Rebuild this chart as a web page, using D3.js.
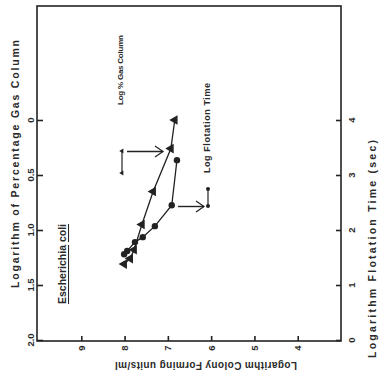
<!DOCTYPE html>
<html><head><meta charset="utf-8">
<script src="https://cdn.jsdelivr.net/npm/d3@7"></script>
<style>
body{margin:0;background:#fff;}
svg text{font-family:"Liberation Sans",Arial,sans-serif;font-weight:bold;fill:#2a2a2a;}
</style></head>
<body><svg id="c" width="379" height="380"></svg>
<script>
// Data
const gasCFU = [6.84, 6.93, 7.34, 7.60, 7.78, 7.87, 8.01];
const gasLog = [0.00, 0.26, 0.65, 0.95, 1.18, 1.26, 1.31];
const timeCFU = [6.79, 6.91, 7.30, 7.58, 7.76, 7.94, 8.01];
const timeLog = [3.27, 2.45, 2.07, 1.87, 1.78, 1.62, 1.56];
const cfuTicks = [9, 8, 7, 6, 5, 4];
const gasTicks = [0, 0.5, 1.0, 1.5, 2.0];
const gasTickLabels = ["0", "0.5", "1.0", "1.5", "2.0"];
const timeTicks = [0, 1, 2, 3, 4];

const svg = d3.select("#c");
const L = 37, R = 341, T = 6, B = 341;
const x = d3.scaleLinear().domain([10, 3]).range([38, 341]);
const yG = d3.scaleLinear().domain([0, 2]).range([120, 340]);
const yT = d3.scaleLinear().domain([0, 4]).range([340, 120]);

const ink = "#222";
// frame
svg.append("rect").attr("x", L).attr("y", T).attr("width", R - L).attr("height", B - T)
  .attr("fill", "none").attr("stroke", ink).attr("stroke-width", 1.6);

// axes (tick marks only)
const gL = svg.append("g").attr("transform", `translate(${L},0)`)
  .call(d3.axisLeft(yG).tickValues(gasTicks).tickSize(-6).tickFormat(""));
const gR = svg.append("g").attr("transform", `translate(${R},0)`)
  .call(d3.axisRight(yT).tickValues(timeTicks).tickSize(-5).tickFormat(""));
const gB = svg.append("g").attr("transform", `translate(0,${B})`)
  .call(d3.axisBottom(x).tickValues(cfuTicks).tickSize(-5).tickFormat(""));
[gL, gR, gB].forEach(g => {
  g.select(".domain").remove();
  g.selectAll(".tick line").attr("stroke", ink).attr("stroke-width", 1.6);
});

function rtext(cx, cy, str, size, rot, len) {
  const t = svg.append("text").attr("transform", `translate(${cx},${cy}) rotate(${rot})`)
    .attr("text-anchor", "middle").attr("dominant-baseline", "central")
    .style("font-size", size + "px").text(str);
  if (len) t.attr("textLength", len).attr("lengthAdjust", "spacing");
  return t;
}

// tick labels
gasTicks.forEach((v, i) => rtext(30, yG(v), gasTickLabels[i], 9.5, -90));
timeTicks.forEach(v => rtext(351, yT(v), String(v), 9.5, -90));
cfuTicks.forEach(v => rtext(x(v), 348, String(v), 9.5, -90));

// axis titles
rtext(15, 164, "Logarithm of Percentage Gas Column", 10.5, -90, 248);
rtext(372, 249, "Logarithm Flotation Time (sec)", 10.5, -90, 218);
rtext(206, 365, "Logarithm Colony Forming units/ml", 10, 180, 182);

// Series lines
const lineG = d3.line().x(d => x(d[0])).y(d => yG(d[1]));
const lineT = d3.line().x(d => x(d[0])).y(d => yT(d[1]));
const gasPts = gasCFU.map((c, i) => [c, gasLog[i]]);
const timePts = timeCFU.map((c, i) => [c, timeLog[i]]);
svg.append("path").attr("d", lineG(gasPts)).attr("fill", "none").attr("stroke", ink).attr("stroke-width", 1.3);
svg.append("path").attr("d", lineT(timePts)).attr("fill", "none").attr("stroke", ink).attr("stroke-width", 1.3);

const tri = d3.symbol().type(d3.symbolTriangle).size(40);
svg.selectAll(".tri").data(gasPts).join("path")
  .attr("d", tri)
  .attr("transform", d => `translate(${x(d[0])},${yG(d[1])}) rotate(-90)`)
  .attr("fill", ink);
svg.selectAll(".circ").data(timePts).join("circle")
  .attr("cx", d => x(d[0])).attr("cy", d => yT(d[1])).attr("r", 3.2).attr("fill", ink);

// legend: gas column
rtext(120, 70, "Log % Gas Column", 8, -90, 70);
svg.append("line").attr("x1", 122).attr("x2", 122).attr("y1", 151).attr("y2", 173)
  .attr("stroke", ink).attr("stroke-width", 1.2);
const triS = d3.symbol().type(d3.symbolTriangle).size(10);
[151, 173].forEach(yy => svg.append("path").attr("d", triS)
  .attr("transform", `translate(122,${yy}) rotate(-90)`).attr("fill", ink));
svg.append("line").attr("x1", 127).attr("x2", 163).attr("y1", 151.5).attr("y2", 151.5)
  .attr("stroke", ink).attr("stroke-width", 1.4);
svg.append("path").attr("d", "M155,146 L163,151.5 L155,157").attr("fill", "none")
  .attr("stroke", ink).attr("stroke-width", 1.2);

// legend: flotation time
rtext(207, 128, "Log Flotation Time", 9, -90, 90);
svg.append("line").attr("x1", 208).attr("x2", 208).attr("y1", 189).attr("y2", 206)
  .attr("stroke", ink).attr("stroke-width", 1.2);
[189, 206].forEach(yy => svg.append("circle").attr("cx", 208).attr("cy", yy).attr("r", 2).attr("fill", ink));
svg.append("line").attr("x1", 178).attr("x2", 204).attr("y1", 206.5).attr("y2", 206.5)
  .attr("stroke", ink).attr("stroke-width", 1.4);
svg.append("path").attr("d", "M196,201 L204,206.5 L196,212").attr("fill", "none")
  .attr("stroke", ink).attr("stroke-width", 1.2);

// organism label
const org = svg.append("text").attr("transform", "translate(62,264) rotate(-90)")
  .attr("text-anchor", "middle").attr("dominant-baseline", "central")
  .style("font-size", "10.5px");
org.append("tspan").attr("text-decoration", "underline").text("Escherichia");
org.append("tspan").text(" ");
org.append("tspan").attr("text-decoration", "underline").text("coli");
</script></body></html>
